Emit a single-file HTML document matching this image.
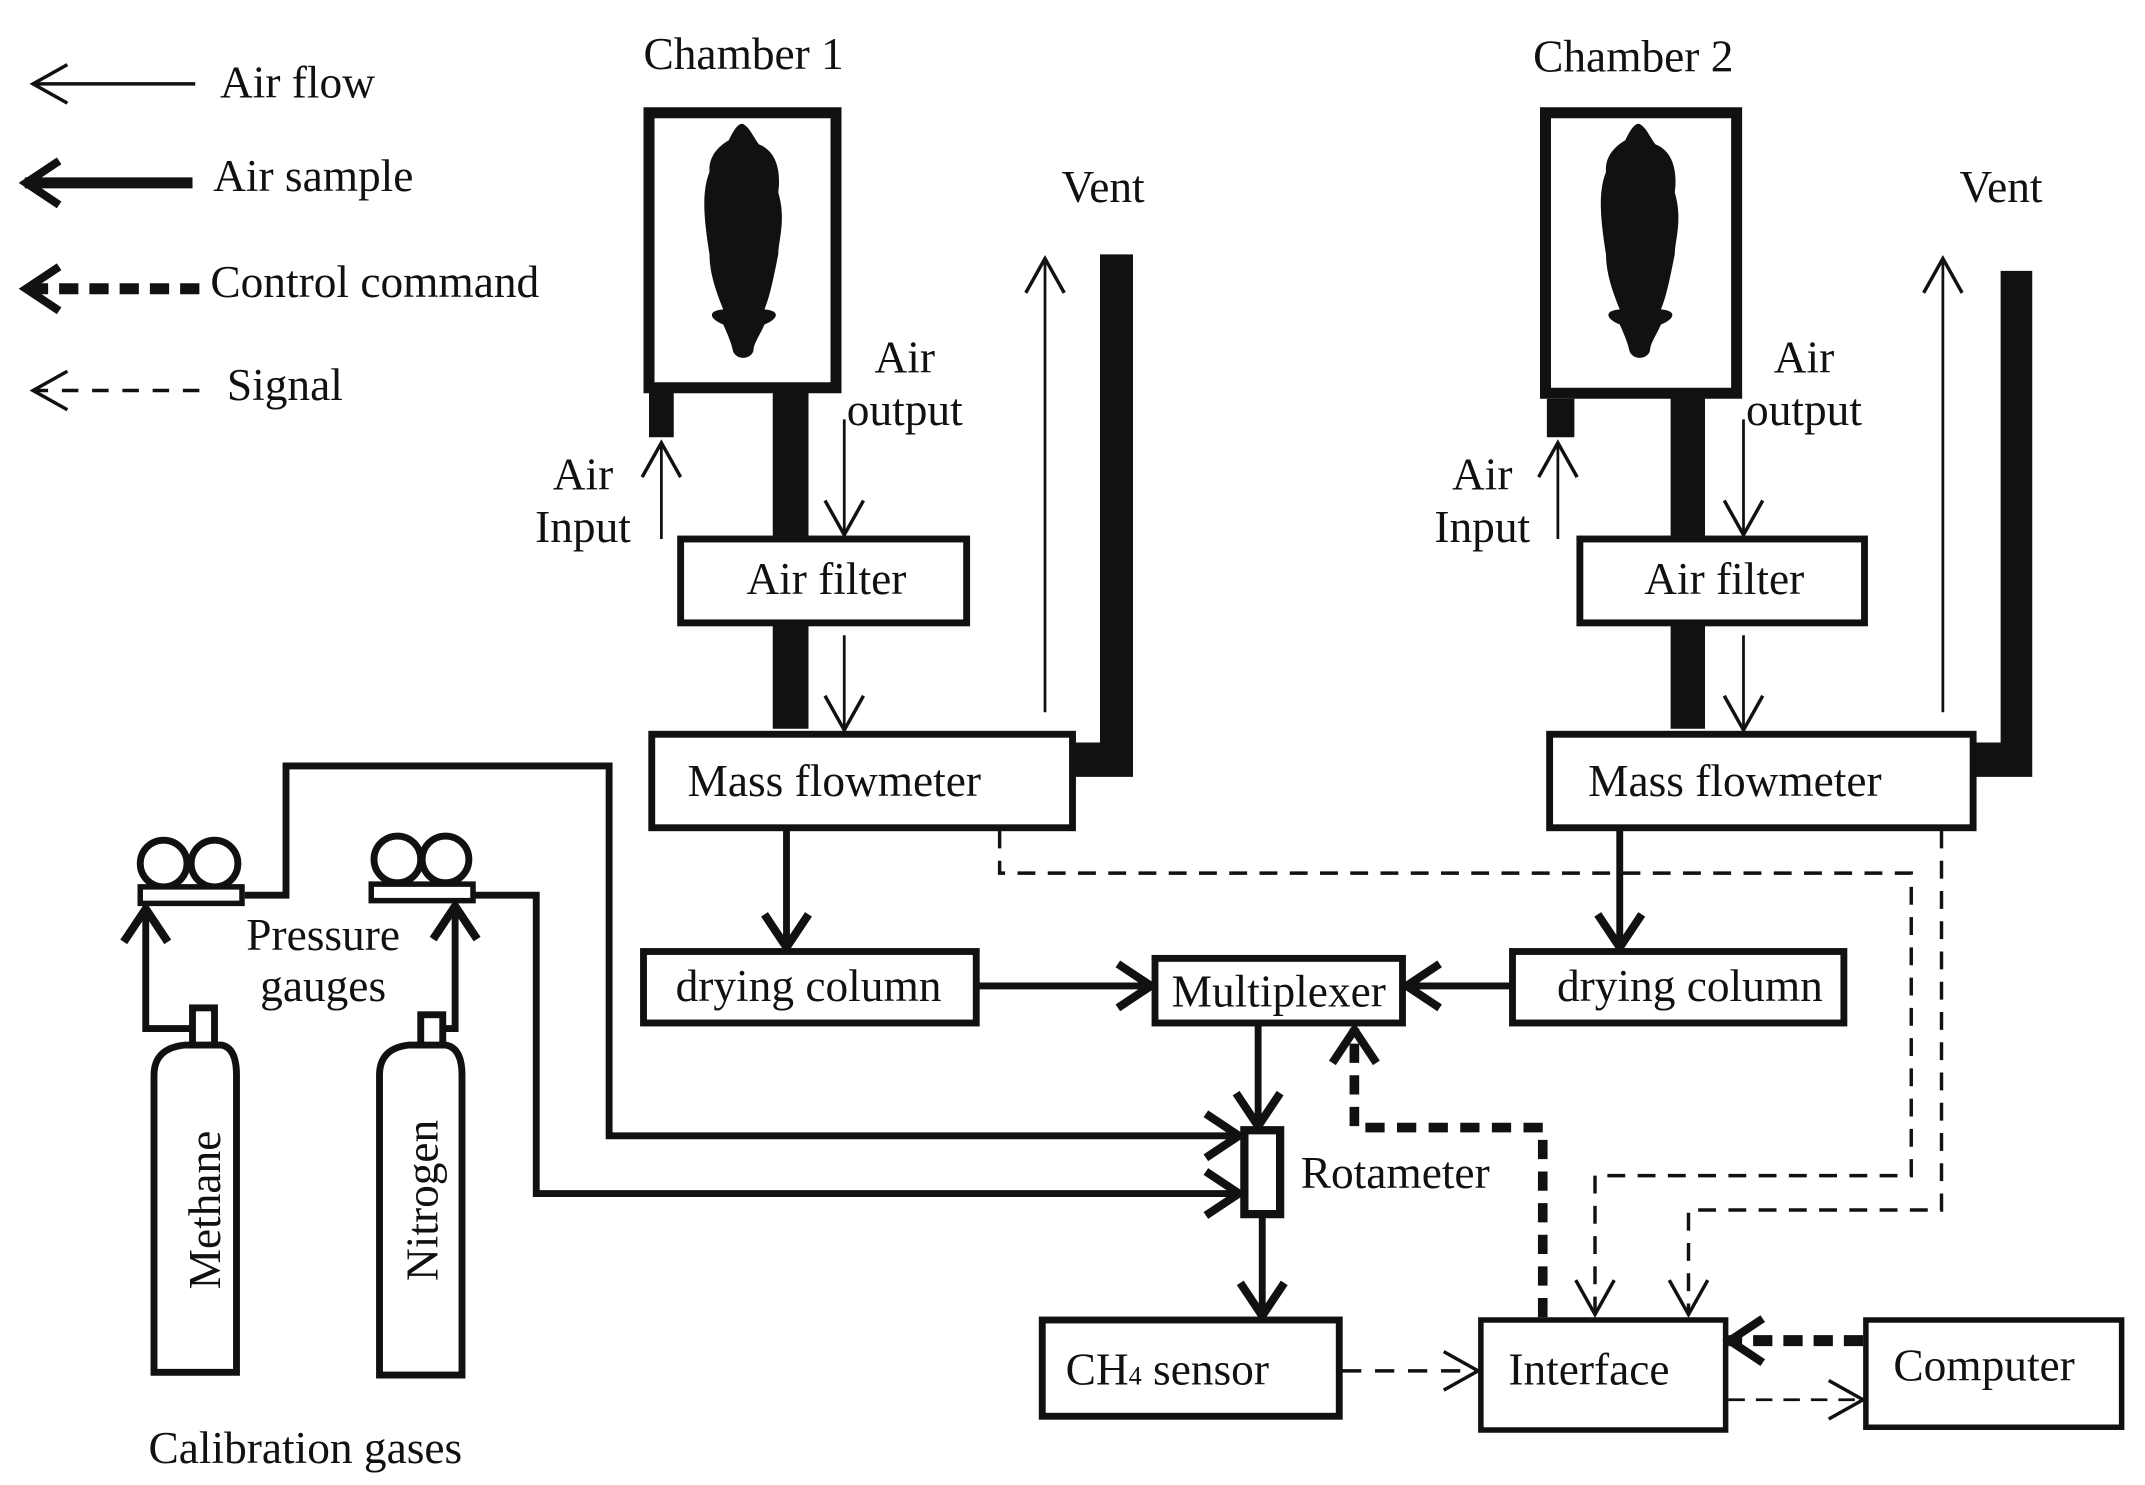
<!DOCTYPE html>
<html><head><meta charset="utf-8"><style>
html,body{margin:0;padding:0;background:#fff;}
svg{display:block;}
text{font-family:"Liberation Serif",serif;font-size:33px;fill:#111;}
</style></head><body>
<svg width="2145" height="1485" viewBox="0 0 1560 1080" xmlns="http://www.w3.org/2000/svg">
<defs>
<marker id="thin" markerWidth="34" markerHeight="34" refX="28" refY="17" orient="auto" markerUnits="userSpaceOnUse">
<path d="M3,3 L28,17 L3,31" fill="none" stroke="#111" stroke-width="2.5"/></marker>
<marker id="thick" markerWidth="34" markerHeight="40" refX="29" refY="20" orient="auto" markerUnits="userSpaceOnUse">
<path d="M4,4 L28,20 L4,36" fill="none" stroke="#111" stroke-width="6"/></marker>
</defs>
<g stroke="#111" fill="none">
<line x1="142" y1="61" x2="24" y2="61" stroke-width="2.5" marker-end="url(#thin)"/>
<line x1="140" y1="133" x2="18" y2="133" stroke-width="8" marker-end="url(#thick)"/>
<line x1="145" y1="210" x2="18" y2="210" stroke-width="8" stroke-dasharray="14,8" marker-end="url(#thick)"/>
<line x1="145" y1="284" x2="24" y2="284" stroke-width="2.5" stroke-dasharray="12,10" marker-end="url(#thin)"/>

<rect x="472" y="82" width="136" height="200" stroke-width="8"/>
<rect x="472" y="285" width="18" height="33" fill="#111" stroke="none"/>
<rect x="562" y="285" width="26" height="245" fill="#111" stroke="none"/>
<line x1="481" y1="392" x2="481" y2="322" stroke-width="2" marker-end="url(#thin)"/>
<line x1="614" y1="305" x2="614" y2="389" stroke-width="2" marker-end="url(#thin)"/>
<rect x="495" y="392" width="208" height="61" stroke-width="5" fill="#fff"/>
<line x1="614" y1="462" x2="614" y2="531" stroke-width="2" marker-end="url(#thin)"/>
<rect x="474" y="534" width="306" height="68" stroke-width="5" fill="#fff"/>
<line x1="760" y1="518" x2="760" y2="188" stroke-width="2" marker-end="url(#thin)"/>
<path d="M800,185 H824 V565 H782 V540 H800 Z" fill="#111" stroke="none"/>

<rect x="1124" y="82" width="139" height="204" stroke-width="8"/>
<rect x="1125" y="290" width="20" height="28" fill="#111" stroke="none"/>
<rect x="1215" y="288" width="25" height="242" fill="#111" stroke="none"/>
<line x1="1133" y1="392" x2="1133" y2="322" stroke-width="2" marker-end="url(#thin)"/>
<line x1="1268" y1="305" x2="1268" y2="389" stroke-width="2" marker-end="url(#thin)"/>
<rect x="1149" y="392" width="207" height="61" stroke-width="5" fill="#fff"/>
<line x1="1268" y1="462" x2="1268" y2="531" stroke-width="2" marker-end="url(#thin)"/>
<rect x="1127" y="534" width="308" height="68" stroke-width="5" fill="#fff"/>
<line x1="1413" y1="518" x2="1413" y2="188" stroke-width="2" marker-end="url(#thin)"/>
<path d="M1455,197 H1478 V565 H1437 V540 H1455 Z" fill="#111" stroke="none"/>

<line x1="572" y1="604" x2="572" y2="690" stroke-width="5" marker-end="url(#thick)"/>
<line x1="1178" y1="604" x2="1178" y2="690" stroke-width="5" marker-end="url(#thick)"/>
<rect x="468" y="692" width="242" height="52" stroke-width="5" fill="#fff"/>
<rect x="1100" y="692" width="241" height="52" stroke-width="5" fill="#fff"/>
<rect x="840" y="697" width="180" height="47" stroke-width="5" fill="#fff"/>
<line x1="712" y1="717" x2="838" y2="717" stroke-width="5" marker-end="url(#thick)"/>
<line x1="1098" y1="717" x2="1022" y2="717" stroke-width="5" marker-end="url(#thick)"/>
<line x1="915" y1="745" x2="915" y2="820" stroke-width="5" marker-end="url(#thick)"/>
<rect x="905" y="822" width="26" height="61" stroke-width="6" fill="#fff"/>
<line x1="918" y1="885" x2="918" y2="958" stroke-width="5" marker-end="url(#thick)"/>

<rect x="758" y="960" width="216" height="70" stroke-width="5" fill="#fff"/>
<rect x="1077" y="960" width="178" height="80" stroke-width="4" fill="#fff"/>
<rect x="1357" y="960" width="186" height="78" stroke-width="4" fill="#fff"/>
<line x1="976" y1="997" x2="1075" y2="997" stroke-width="2.5" stroke-dasharray="14,10" marker-end="url(#thin)"/>
<line x1="1355" y1="975" x2="1257" y2="975" stroke-width="8" stroke-dasharray="14,8" marker-end="url(#thick)"/>
<line x1="1257" y1="1018" x2="1355" y2="1018" stroke-width="2" stroke-dasharray="12,8" marker-end="url(#thin)"/>
<path d="M1122,958 V820 H985 V748" stroke-width="7" stroke-dasharray="14,9" marker-end="url(#thick)"/>
<path d="M727,604 V635 H1390 V855 H1160 V956" stroke-width="2.5" stroke-dasharray="13,9" marker-end="url(#thin)"/>
<path d="M1412,604 V880 H1228 V956" stroke-width="2.5" stroke-dasharray="13,9" marker-end="url(#thin)"/>

<path d="M178,651 H208 V557 H443 V826 H902" stroke-width="5" marker-end="url(#thick)"/>
<path d="M345,651 H390 V868 H902" stroke-width="5" marker-end="url(#thick)"/>

<circle cx="119" cy="628" r="17" stroke-width="5"/>
<circle cx="156" cy="628" r="17" stroke-width="5"/>
<rect x="102" y="645" width="74" height="12" stroke-width="4" fill="#fff"/>
<circle cx="289" cy="625" r="17" stroke-width="5"/>
<circle cx="324" cy="625" r="17" stroke-width="5"/>
<rect x="270" y="643" width="74" height="12" stroke-width="4" fill="#fff"/>
<path d="M148,748 H106 V660" stroke-width="5" marker-end="url(#thick)"/>
<path d="M318,748 H331 V658" stroke-width="5" marker-end="url(#thick)"/>

<rect x="140" y="733" width="16" height="28" stroke-width="5" fill="#fff"/>
<path d="M112,998 V782 Q112,762 135,760 H161 Q172,762 172,782 V998 Z" stroke-width="5" fill="#fff"/>
<rect x="306" y="738" width="16" height="24" stroke-width="5" fill="#fff"/>
<path d="M276,1000 V782 Q276,762 298,760 H324 Q336,762 336,782 V1000 Z" stroke-width="5" fill="#fff"/>
</g>

<g fill="#111">
<path d="M540,90 C545,92 548,100 552,105 C565,110 568,125 566,140 C572,160 566,175 566,185 C562,205 560,215 556,225 C568,226 566,232 556,236 C552,245 548,250 548,255 C546,262 535,262 533,255 C532,250 530,245 526,236 C516,232 514,226 526,225 C522,215 516,200 516,185 C512,160 510,140 516,125 C515,112 525,105 530,102 C533,96 536,90 540,90 Z"/>
<path d="M1192,90 C1197,92 1200,100 1204,105 C1217,110 1220,125 1218,140 C1224,160 1218,175 1218,185 C1214,205 1212,215 1208,225 C1220,226 1218,232 1208,236 C1204,245 1200,250 1200,255 C1198,262 1187,262 1185,255 C1184,250 1182,245 1178,236 C1168,232 1166,226 1178,225 C1174,215 1168,200 1168,185 C1164,160 1162,140 1168,125 C1167,112 1177,105 1182,102 C1185,96 1188,90 1192,90 Z"/>
</g>

<text x="160" y="71">Air flow</text>
<text x="155" y="139">Air sample</text>
<text x="153" y="216">Control command</text>
<text x="165" y="291">Signal</text>
<text x="468" y="50">Chamber 1</text>
<text x="1115" y="52">Chamber 2</text>
<text x="772" y="147">Vent</text>
<text x="1425" y="147">Vent</text>
<text x="424" y="356" text-anchor="middle">Air</text>
<text x="424" y="394" text-anchor="middle">Input</text>
<text x="658" y="271" text-anchor="middle">Air</text>
<text x="658" y="309" text-anchor="middle">output</text>
<text x="1078" y="356" text-anchor="middle">Air</text>
<text x="1078" y="394" text-anchor="middle">Input</text>
<text x="1312" y="271" text-anchor="middle">Air</text>
<text x="1312" y="309" text-anchor="middle">output</text>
<text x="601" y="432" text-anchor="middle">Air filter</text>
<text x="1254" y="432" text-anchor="middle">Air filter</text>
<text x="500" y="579">Mass flowmeter</text>
<text x="1155" y="579">Mass flowmeter</text>
<text x="588" y="728" text-anchor="middle">drying column</text>
<text x="1229" y="728" text-anchor="middle">drying column</text>
<text x="930" y="732" text-anchor="middle">Multiplexer</text>
<text x="946" y="864">Rotameter</text>
<text x="775" y="1007">CH<tspan font-size="19">4</tspan>  sensor</text>
<text x="1097" y="1007">Interface</text>
<text x="1377" y="1004">Computer</text>
<text x="235" y="691" text-anchor="middle">Pressure</text>
<text x="235" y="728" text-anchor="middle">gauges</text>
<text x="108" y="1064">Calibration gases</text>
<text transform="translate(160,880) rotate(-90)" text-anchor="middle">Methane</text>
<text transform="translate(318,873) rotate(-90)" text-anchor="middle">Nitrogen</text>
</svg>
</body></html>
